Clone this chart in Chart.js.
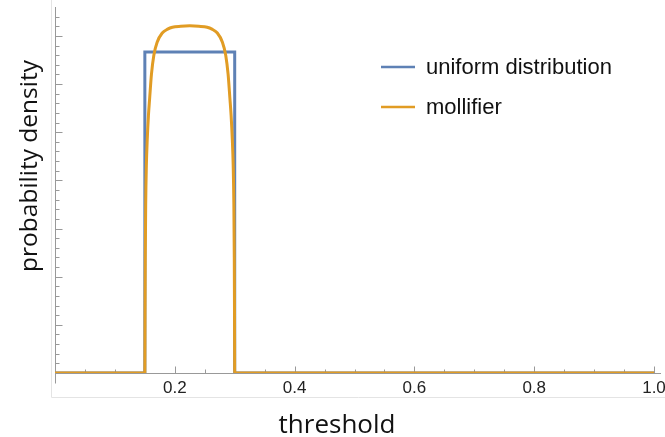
<!DOCTYPE html>
<html lang="en">
<head>
<meta charset="UTF-8">
<title>Uniform distribution vs mollifier</title>
<script src="https://cdn.jsdelivr.net/npm/chart.js@4"></script>
<style>
  html, body { margin: 0; padding: 0; background: #fff; }
  #wrap { width: 665px; height: 437px; }
</style>
</head>
<body>
<div id="wrap"><canvas id="densityChart"></canvas></div>
<script>
// uniform density on [0.15, 0.3]
var uniformX = [0, 0.15, 0.15, 0.3, 0.3, 1.0];
var uniformY = [0, 0, 6.667, 6.667, 0, 0];

// mollifier
var mollX = [0, 0.15, 0.1503, 0.1507, 0.1514, 0.1525, 0.154, 0.156, 0.158, 0.161, 0.165, 0.1705,
             0.179, 0.188, 0.196, 0.21, 0.225, 0.24, 0.254, 0.262, 0.271, 0.2795, 0.285,
             0.289, 0.292, 0.294, 0.296, 0.2975, 0.2986, 0.2993, 0.2997, 0.3, 1.0];
var mollY = [0, 0, 1.2, 2.4, 3.5, 4.3, 4.85, 5.35, 5.7, 6.2, 6.6, 6.87,
             7.06, 7.14, 7.18, 7.2, 7.21, 7.2, 7.18, 7.14, 7.06, 6.87, 6.6,
             6.2, 5.7, 5.35, 4.85, 4.3, 3.5, 2.4, 1.2, 0, 0];

var xTicks = [0.2, 0.4, 0.6, 0.8, 1.0];
var seriesNames = ['uniform distribution', 'mollifier'];
var seriesColors = ['#5e81b5', '#e19c24'];
var axisTitles = ['threshold', 'probability density'];

function toPoints(xs, ys) {
    return xs.map(function (x, i) { return { x: x, y: ys[i] }; });
}

// axes drawn Mathematica style: ticks pointing inward, minor ticks, a short stub below 0
var axesDeco = {
    id: 'axesDeco',
    beforeDatasetsDraw: function (chart) {
        var ctx = chart.ctx;
        var xs = chart.scales.x, ys = chart.scales.y;
        var x0 = Math.round(xs.getPixelForValue(0)) + 0.5;
        var y0 = Math.round(ys.getPixelForValue(0)) + 0.5;
        ctx.save();
        // light frame
        ctx.strokeStyle = '#e4e4e4';
        ctx.lineWidth = 1;
        ctx.beginPath();
        ctx.moveTo(51.5, 0);
        ctx.lineTo(51.5, 397.5);
        ctx.lineTo(665, 397.5);
        ctx.stroke();

        ctx.strokeStyle = '#999';
        ctx.beginPath();
        ctx.moveTo(x0, y0);
        ctx.lineTo(x0, y0 + 10);
        // x ticks every 0.05, long ones every 0.2
        for (var i = 1; i <= 20; i++) {
            var px = Math.round(xs.getPixelForValue(i * 0.05)) + 0.5;
            var len = (i % 4 === 0) ? 7 : 4;
            ctx.moveTo(px, y0);
            ctx.lineTo(px, y0 - len);
        }
        // y ticks every 0.2, long ones every 1
        for (var j = 1; j <= 37; j++) {
            var py = Math.round(ys.getPixelForValue(j * 0.2)) + 0.5;
            var l = (j % 5 === 0) ? 7 : 4;
            ctx.moveTo(x0, py);
            ctx.lineTo(x0 + l, py);
        }
        ctx.stroke();
        ctx.restore();
    },
    afterDraw: function (chart) {
        var ctx = chart.ctx;
        ctx.save();
        ctx.fillStyle = '#111';
        ctx.textAlign = 'center';
        ctx.textBaseline = 'alphabetic';
        ctx.font = '26px "Open Sans"';
        ctx.fillText(axisTitles[0], 337, 433);
        ctx.font = '24.5px "Open Sans"';
        ctx.translate(37, 166);
        ctx.rotate(-Math.PI / 2);
        ctx.fillText(axisTitles[1], 0, 0);
        ctx.restore();

        // legend inside the plot
        ctx.save();
        ctx.font = '22px "Liberation Sans", Arial, sans-serif';
        ctx.textAlign = 'left';
        ctx.textBaseline = 'alphabetic';
        chart.data.datasets.forEach(function (ds, k) {
            var ly = 67 + k * 40;
            ctx.strokeStyle = ds.borderColor;
            ctx.lineWidth = 2.5;
            ctx.beginPath();
            ctx.moveTo(381, ly);
            ctx.lineTo(415, ly);
            ctx.stroke();
            ctx.fillStyle = '#111';
            ctx.fillText(ds.label, 426, ly + 7);
        });
        ctx.restore();
    }
};

var ctx = document.getElementById('densityChart').getContext('2d');
var chart = new Chart(ctx, {
    type: 'scatter',
    data: {
        datasets: [{
            label: seriesNames[0],
            data: toPoints(uniformX, uniformY),
            showLine: true,
            borderColor: seriesColors[0],
            borderWidth: 3,
            pointRadius: 0,
            order: 1
        }, {
            label: seriesNames[1],
            data: toPoints(mollX, mollY),
            showLine: true,
            cubicInterpolationMode: 'monotone',
            borderColor: seriesColors[1],
            borderWidth: 3,
            pointRadius: 0,
            order: 0
        }]
    },
    options: {
        responsive: true,
        maintainAspectRatio: false,
        animation: false,
        layout: { padding: { top: 7, right: 5, left: 0, bottom: 0 } },
        plugins: { legend: { display: false }, tooltip: { enabled: false } },
        scales: {
            x: {
                type: 'linear',
                min: 0,
                max: 1.01,
                grid: { display: false, drawTicks: false },
                border: { color: '#999' },
                ticks: {
                    autoSkip: false,
                    maxRotation: 0,
                    padding: 5,
                    color: '#222',
                    font: { family: '"Liberation Sans", Arial, sans-serif', size: 17 },
                    callback: function (v) { return Number(v).toFixed(1); }
                },
                afterBuildTicks: function (s) {
                    s.ticks = xTicks.map(function (v) { return { value: v }; });
                },
                afterFit: function (s) {
                    s.height = 64;
                    s.paddingLeft = 0;
                    s.paddingRight = 0;
                }
            },
            y: {
                min: 0,
                max: 7.6,
                grid: { display: false, drawTicks: false },
                border: { color: '#999' },
                ticks: { display: false },
                afterFit: function (s) { s.width = 55; }
            }
        }
    },
    plugins: [axesDeco]
});
</script>
</body>
</html>
